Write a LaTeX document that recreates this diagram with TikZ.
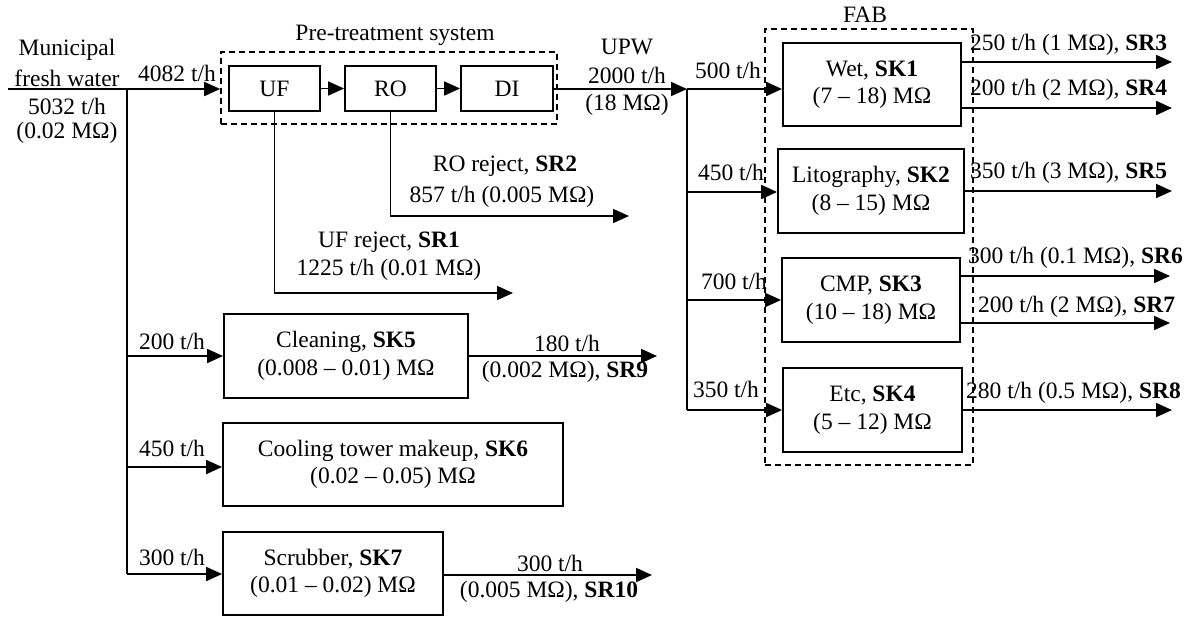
\documentclass[tikz,border=0pt]{standalone}
\usepackage{fontspec}
\setmainfont{Liberation Serif}
\usetikzlibrary{arrows.meta}
\begin{document}
\begin{tikzpicture}[x=1pt,y=-1pt,
  font=\fontsize{23.5}{27.5}\selectfont,
  box/.style={draw,line width=1.8pt,inner sep=0pt,align=center},
  dbox/.style={draw,line width=1.6pt,dash pattern=on 6pt off 4pt,inner sep=0pt},
  lbl/.style={inner sep=0pt,align=center},
  conn/.style={line width=1.8pt},
  arr/.style={conn,-{Triangle[length=16pt,width=14pt]}}]
\useasboundingbox (0,0) rectangle (1199,618);

% dashed groups
\node[dbox,minimum width=336pt,minimum height=72pt] (pre) at (389,88) {};
\node[dbox,minimum width=208pt,minimum height=436pt] (fab) at (869,247) {};
\node[lbl] (pretitle) at (395,35) {Pre-treatment system};
\node[lbl] (fabtitle) at (865,15) {FAB};

% boxes
\node[box,minimum width=91pt,minimum height=45pt] (UF) at (274.5,88.5) {UF};
\node[box,minimum width=91pt,minimum height=45pt] (RO) at (390.5,88.5) {RO};
\node[box,minimum width=92pt,minimum height=45pt] (DI) at (507,88.5) {DI};
\node[box,minimum width=178pt,minimum height=83pt] (Wet) at (872,84.5) {Wet, \textbf{SK1}\\(7 – 18) MΩ};
\node[box,minimum width=186pt,minimum height=84pt] (Lito) at (871,191) {Litography, \textbf{SK2}\\(8 – 15) MΩ};
\node[box,minimum width=178pt,minimum height=84pt] (CMP) at (871,300) {CMP, \textbf{SK3}\\(10 – 18) MΩ};
\node[box,minimum width=179pt,minimum height=84pt] (Etc) at (872.5,410) {Etc, \textbf{SK4}\\(5 – 12) MΩ};
\node[box,minimum width=244pt,minimum height=84pt] (Clean) at (346,356) {Cleaning, \textbf{SK5}\\(0.008 – 0.01) MΩ};
\node[box,minimum width=340pt,minimum height=83pt] (Cool) at (393,464.5) {Cooling tower makeup, \textbf{SK6}\\(0.02 – 0.05) MΩ};
\node[box,minimum width=220pt,minimum height=83pt] (Scrub) at (333,573.5) {Scrubber, \textbf{SK7}\\(0.01 – 0.02) MΩ};

% coordinates
\coordinate (src) at (8,89);
\coordinate (L) at (127,89);
\coordinate (Lend) at (127,574);
\coordinate (J) at (687,89);
\coordinate (Jend) at (687,410);
\coordinate (j2) at (687,192);
\coordinate (j3) at (687,300);
\coordinate (l1) at (127,356);
\coordinate (l2) at (127,467);
\coordinate (o3) at (1172,62);
\coordinate (o4) at (1172,108);
\coordinate (o5) at (1172,191);
\coordinate (o6) at (1170,276);
\coordinate (o7) at (1170,323);
\coordinate (o8) at (1172,410);
\coordinate (o9) at (657,356);
\coordinate (o10) at (652,575);
\coordinate (ufr) at (513,293);
\coordinate (ror) at (629,216);

% connectors
\draw[arr] (src) -- (src -| pre.west);
\draw[conn] (L) -- (Lend);
\draw[arr] (UF) -- (RO);
\draw[arr] (RO) -- (DI);
\draw[arr] (DI.east |- J) -- (J);
\draw[conn] (J) -- (Jend);
\draw[arr] (J) -- (J -| Wet.west);
\draw[arr] (j2) -- (j2 -| Lito.west);
\draw[arr] (j3) -- (j3 -| CMP.west);
\draw[arr] (Jend) -- (Jend -| Etc.west);
\draw[arr] (l1) -- (l1 -| Clean.west);
\draw[arr] (l2) -- (l2 -| Cool.west);
\draw[arr] (Lend) -- (Lend -| Scrub.west);
\draw[arr] (UF.south) |- (ufr);
\draw[arr] (RO.south) |- (ror);
\draw[arr] (o3 -| Wet.east) -- (o3);
\draw[arr] (o4 -| Wet.east) -- (o4);
\draw[arr] (o5 -| Lito.east) -- (o5);
\draw[arr] (o6 -| CMP.east) -- (o6);
\draw[arr] (o7 -| CMP.east) -- (o7);
\draw[arr] (o8 -| Etc.east) -- (o8);
\draw[arr] (o9 -| Clean.east) -- (o9);
\draw[arr] (o10 -| Scrub.east) -- (o10);

% labels
\node[lbl] (mun1) at (67,50) {Municipal};
\node[lbl] (mun2) at (67,78) {fresh water};
\node[lbl] (mun3) at (67,106) {5032 t/h};
\node[lbl] (mun4) at (67,133) {(0.02 MΩ)};
\node[lbl] (f4082) at (177,73) {4082 t/h};
\node[lbl] (upw1) at (627,47) {UPW};
\node[lbl] (upw2) at (627,75) {2000 t/h};
\node[lbl] (upw3) at (627,105) {(18 MΩ)};
\node[lbl] (f500) at (728,70) {500 t/h};
\node[lbl] (f450a) at (731,172) {450 t/h};
\node[lbl] (f700) at (734,281) {700 t/h};
\node[lbl] (f350) at (726,389) {350 t/h};
\node[lbl,anchor=west] (sr3) at (970,45) {250 t/h (1 MΩ), \textbf{SR3}};
\node[lbl,anchor=west] (sr4) at (970,90) {200 t/h (2 MΩ), \textbf{SR4}};
\node[lbl,anchor=west] (sr5) at (970,173) {350 t/h (3 MΩ), \textbf{SR5}};
\node[lbl,anchor=west] (sr6) at (968,258) {300 t/h (0.1 MΩ), \textbf{SR6}};
\node[lbl,anchor=west] (sr7) at (978,307) {200 t/h (2 MΩ), \textbf{SR7}};
\node[lbl,anchor=west] (sr8) at (966,393) {280 t/h (0.5 MΩ), \textbf{SR8}};
\node[lbl] (sr2a) at (505,166) {RO reject, \textbf{SR2}};
\node[lbl] (sr2b) at (502,197) {857 t/h (0.005 MΩ)};
\node[lbl] (sr1a) at (389,242) {UF reject, \textbf{SR1}};
\node[lbl] (sr1b) at (389,270) {1225 t/h (0.01 MΩ)};
\node[lbl] (f200) at (172,341) {200 t/h};
\node[lbl] (f450b) at (172,448) {450 t/h};
\node[lbl] (f300) at (172,557) {300 t/h};
\node[lbl] (sr9a) at (567,343) {180 t/h};
\node[lbl] (sr9b) at (565,372) {(0.002 MΩ), \textbf{SR9}};
\node[lbl] (sr10a) at (550,563) {300 t/h};
\node[lbl] (sr10b) at (549,592) {(0.005 MΩ), \textbf{SR10}};
\end{tikzpicture}
\end{document}
